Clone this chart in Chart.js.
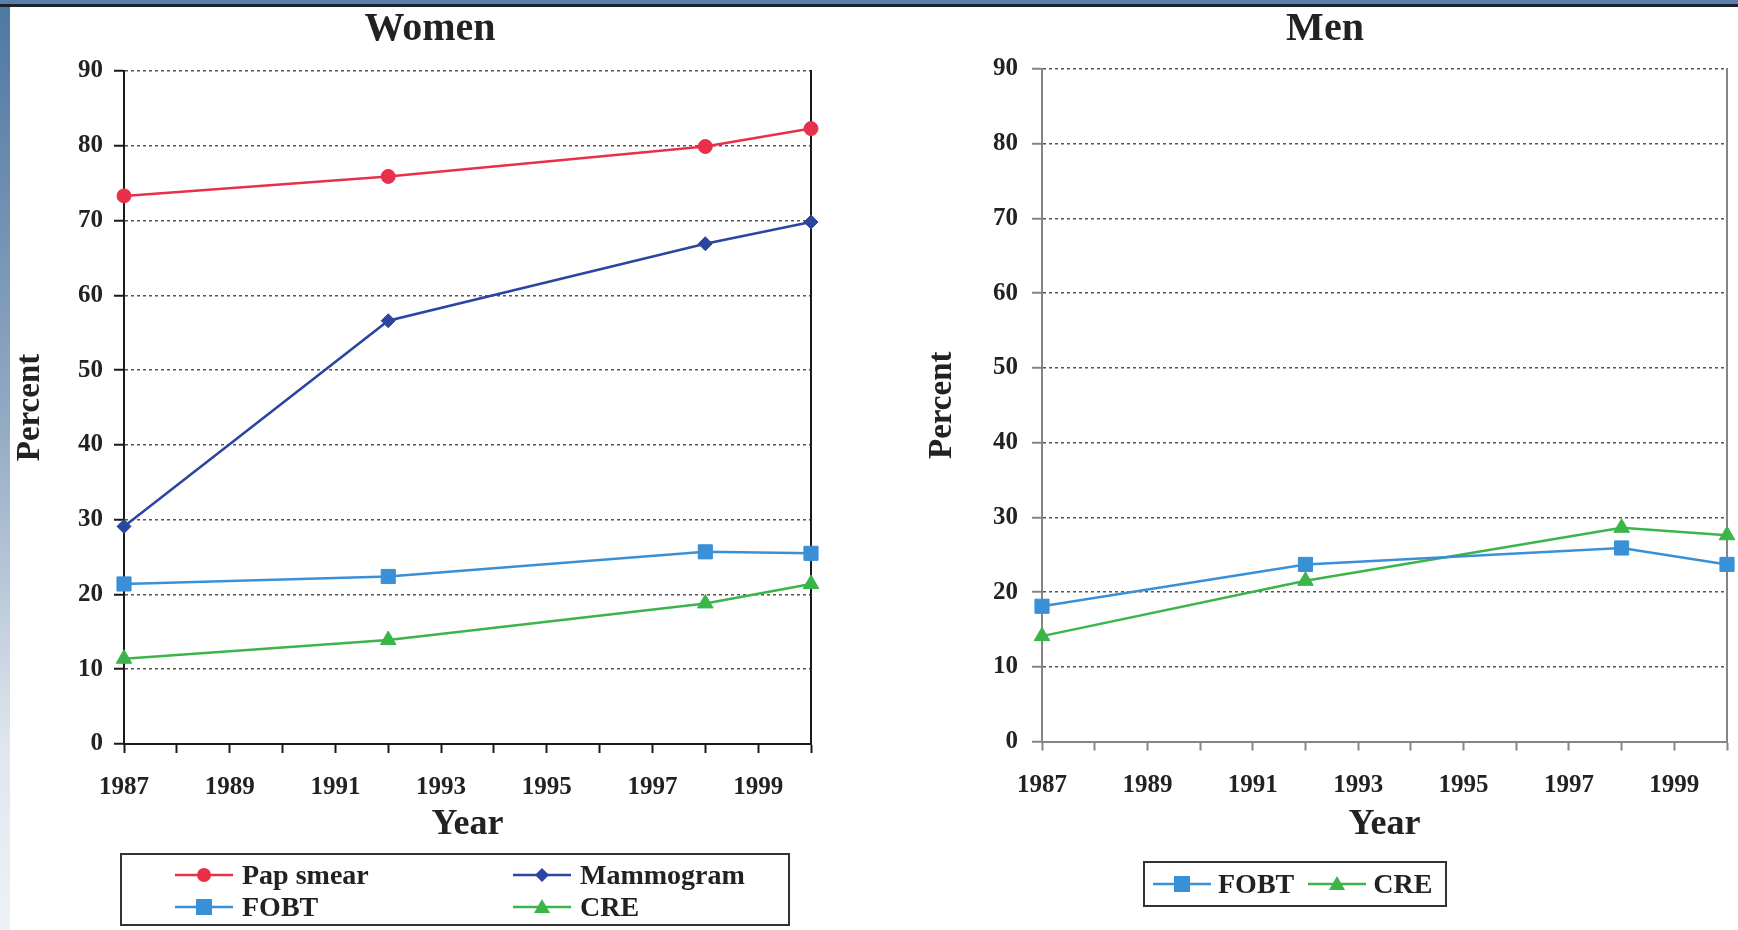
<!DOCTYPE html>
<html>
<head>
<meta charset="utf-8">
<title>Cancer screening by year, women and men</title>
<script src="https://cdn.jsdelivr.net/npm/chart.js@4.4.1/dist/chart.umd.min.js"></script>
<style>
    html, body { margin: 0; padding: 0; background: #fff; }
    body {
        width: 1738px;
        height: 930px;
        position: relative;
        overflow: hidden;
        font-family: "Liberation Serif", "Times New Roman", serif;
    }
    #topBar { position: absolute; left: 0; top: 0; width: 1738px; height: 4px; background: #5a7fa8; z-index: 5; }
    #topLine { position: absolute; left: 0; top: 4px; width: 1738px; height: 3px; background: #1b2230; z-index: 5; }
    #leftBar {
        position: absolute; left: 0; top: 7px; width: 10px; height: 923px; z-index: 5;
        background: linear-gradient(#4f78a3, #93aac3 45%, #dfe6ee 80%, #eef2f7);
    }
    canvas { position: absolute; top: 0; }
    #womenChart { left: 0; }
    #menChart { left: 912px; }

    .legend {
        position: absolute;
        box-sizing: border-box;
        border: 2px solid #333;
        font-weight: bold;
        font-size: 28px;
        color: #222;
    }
    .legend .item { display: flex; align-items: center; white-space: nowrap; }
    .legend svg { display: block; flex: none; }

    #womenLegend {
        left: 120px; top: 853px; width: 670px; height: 73px;
        display: grid;
        grid-template-columns: 338px 250px;
        grid-auto-rows: 32px;
        padding: 4px 0 0 53px;
    }
    #womenLegend .item { gap: 9px; }

    #menLegend {
        left: 1143px; top: 861px; width: 304px; height: 46px;
        display: flex; align-items: center; gap: 14px;
        padding-left: 8px;
    }
    #menLegend .item { gap: 7px; }
</style>
</head>
<body>
<div id="topBar"></div>
<div id="topLine"></div>
<div id="leftBar"></div>

<canvas id="womenChart" width="860" height="930"></canvas>
<canvas id="menChart" width="826" height="930"></canvas>

<div id="womenLegend" class="legend"></div>
<div id="menLegend" class="legend"></div>

<script>
// survey years (x) and percent screened (y)
const surveyYears = [1987, 1992, 1998, 2000];

const womenPapSmear = [73.3, 75.9, 79.9, 82.3];
const womenMammogram = [29.1, 56.6, 66.9, 69.8];
const womenFobt = [21.4, 22.4, 25.7, 25.5];
const womenCre = [11.4, 13.9, 18.8, 21.4];

const menFobt = [18.1, 23.7, 25.9, 23.7];
const menCre = [14.1, 21.5, 28.6, 27.6];

const yearMin = 1987;
const yearMax = 2000;
const percentMax = 90;

const seriesColors = {
    pap: "#e8304a",
    mammogram: "#2b45a0",
    fobt: "#3a90d6",
    cre: "#3bb54a",
};

Chart.defaults.font.family = '"Liberation Serif", "Times New Roman", serif';
Chart.defaults.color = "#222";

function toPoints(values) {
    return surveyYears.map((year, i) => ({ x: year, y: values[i] }));
}

function makeDataset(label, values, color, pointStyle, radius) {
    return {
        label: label,
        data: toPoints(values),
        borderColor: color,
        backgroundColor: color,
        borderWidth: 2.5,
        pointStyle: pointStyle,
        pointRadius: radius,
        pointBorderWidth: 1,
        tension: 0,
        clip: false,
    };
}

function createPanel(canvasId, title, datasets, look) {
    const ctx = document.getElementById(canvasId).getContext("2d");
    const boldFont = (size) => ({ size: size, weight: "bold" });

    return new Chart(ctx, {
        type: "line",
        data: { datasets: datasets },
        options: {
            responsive: false,
            animation: false,
            events: [],
            layout: { padding: { left: 0, right: 0, top: 0, bottom: look.bottomGap } },
            plugins: {
                legend: { display: false },
                tooltip: { enabled: false },
                title: {
                    display: true,
                    text: title,
                    color: "#222",
                    font: boldFont(40),
                    padding: { top: 6, bottom: look.titleGap },
                },
            },
            scales: {
                x: {
                    type: "linear",
                    min: yearMin,
                    max: yearMax,
                    ticks: {
                        stepSize: 1,
                        autoSkip: false,
                        maxRotation: 0,
                        padding: 20,
                        color: "#222",
                        font: boldFont(25),
                        // label every other year, tick mark every year
                        callback: (value) => (value % 2 === 1 ? String(value) : ""),
                    },
                    grid: {
                        drawOnChartArea: false,
                        drawTicks: true,
                        tickLength: 9,
                        tickWidth: 2,
                        tickColor: look.axisColor,
                    },
                    border: { color: look.axisColor, width: 2 },
                    title: {
                        display: true,
                        text: "Year",
                        color: "#222",
                        font: boldFont(36),
                        padding: { top: 0, bottom: 0 },
                    },
                    afterFit: (scale) => {
                        scale.height = look.xHeight;
                        scale.paddingRight = 0;
                    },
                },
                y: {
                    min: 0,
                    max: percentMax,
                    ticks: {
                        stepSize: 10,
                        padding: look.yTickPad,
                        color: "#222",
                        font: boldFont(25),
                    },
                    grid: {
                        color: "#555",
                        lineWidth: 1.5,
                        tickLength: 10,
                        tickWidth: 2,
                        tickColor: look.axisColor,
                        tickBorderDash: [],
                    },
                    border: { color: look.axisColor, width: 2, dash: [3, 3] },
                    title: {
                        display: true,
                        text: "Percent",
                        color: "#222",
                        font: boldFont(33),
                        padding: { top: 11, bottom: 0 },
                    },
                    afterFit: (scale) => {
                        scale.width = look.yWidth;
                    },
                },
                // right-hand frame of the plot
                yRight: {
                    position: "right",
                    min: 0,
                    max: percentMax,
                    ticks: { display: false },
                    grid: { display: false, drawTicks: false },
                    border: { color: look.axisColor, width: 2 },
                    afterFit: (scale) => {
                        scale.width = look.rightGap;
                    },
                },
            },
        },
    });
}

function legendSymbol(color, shape) {
    let marker = "";
    if (shape === "circle") {
        marker = `<circle cx="29" cy="12" r="7" fill="${color}"/>`;
    } else if (shape === "rectRot") {
        marker = `<polygon points="29,5 36,12 29,19 22,12" fill="${color}"/>`;
    } else if (shape === "rect") {
        marker = `<rect x="21" y="4" width="16" height="16" fill="${color}"/>`;
    } else if (shape === "triangle") {
        marker = `<polygon points="29,4 37,18 21,18" fill="${color}"/>`;
    }
    return `<svg width="58" height="24" viewBox="0 0 58 24">` +
        `<line x1="0" y1="12" x2="58" y2="12" stroke="${color}" stroke-width="2.5"/>` +
        marker + `</svg>`;
}

function buildLegend(chart, boxId) {
    const box = document.getElementById(boxId);
    box.innerHTML = chart.data.datasets
        .map((ds) => `<div class="item">${legendSymbol(ds.borderColor, ds.pointStyle)}<span>${ds.label}</span></div>`)
        .join("");
}

const womenChart = createPanel(
    "womenChart",
    "Women",
    [
        makeDataset("Pap smear", womenPapSmear, seriesColors.pap, "circle", 7),
        makeDataset("Mammogram", womenMammogram, seriesColors.mammogram, "rectRot", 7),
        makeDataset("FOBT", womenFobt, seriesColors.fobt, "rect", 10),
        makeDataset("CRE", womenCre, seriesColors.cre, "triangle", 9),
    ],
    { axisColor: "#1a1a1a", yWidth: 124, rightGap: 49, titleGap: 17, xHeight: 102.6, bottomGap: 83.4, yTickPad: 11 }
);

const menChart = createPanel(
    "menChart",
    "Men",
    [
        makeDataset("FOBT", menFobt, seriesColors.fobt, "rect", 10),
        makeDataset("CRE", menCre, seriesColors.cre, "triangle", 9),
    ],
    { axisColor: "#858585", yWidth: 130, rightGap: 3, titleGap: 15, xHeight: 105.1, bottomGap: 83.4, yTickPad: 14 }
);

buildLegend(womenChart, "womenLegend");
buildLegend(menChart, "menLegend");
</script>
</body>
</html>
